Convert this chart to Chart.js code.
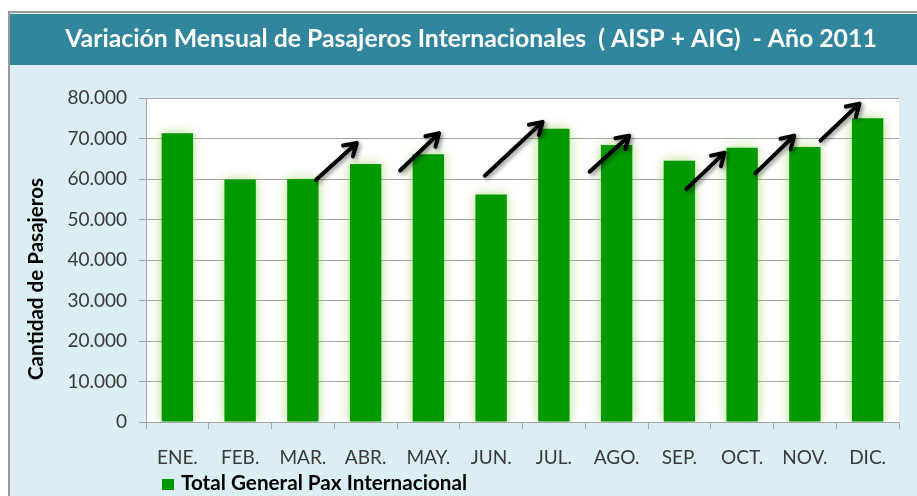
<!DOCTYPE html>
<html>
<head>
<meta charset="utf-8">
<script src="https://cdn.jsdelivr.net/npm/chart.js@4/dist/chart.umd.min.js"></script>
<style>
  html, body { margin: 0; padding: 0; background: #fff; overflow: hidden; }
  canvas { display: block; }
</style>
</head>
<body>
<canvas id="chart" width="917" height="496"></canvas>
<script>
const TITLE = 'Variación Mensual de Pasajeros Internacionales  ( AISP + AIG)  - Año 2011';
const Y_TITLE = 'Cantidad de Pasajeros';
const SERIES_LABEL = 'Total General Pax Internacional';

const MONTHS = ['ENE.', 'FEB.', 'MAR.', 'ABR.', 'MAY.', 'JUN.', 'JUL.', 'AGO.', 'SEP.', 'OCT.', 'NOV.', 'DIC.'];
const PAX = [71300, 59900, 60000, 63700, 66100, 56200, 72400, 68400, 64500, 67700, 67900, 75000];

const Y_MIN = 0;
const Y_MAX = 80000;
const Y_STEP = 10000;

// flechas de tendencia: posicion en categorias (indice) y en pasajeros
const ARROW_FROM_X = [2.21, 3.55, 4.90, 6.57, 8.11, 9.21, 10.25];
const ARROW_FROM_Y = [59800, 62100, 60800, 61800, 57500, 61400, 69500];
const ARROW_TO_X = [2.86, 4.17, 5.82, 7.20, 8.72, 9.83, 10.87];
const ARROW_TO_Y = [68900, 71300, 74100, 70700, 66500, 70700, 78600];

const BAR_COLOR = '#009900';
const GRID = '#a6a6a6';
const FONT = 'Lato';

function fitFont(ctx, text, weight, width) {
    ctx.font = `${weight} 100px ${FONT}`;
    const size = 100 * width / ctx.measureText(text).width;
    return `${weight} ${size.toFixed(1)}px ${FONT}`;
}

function thousands(v) {
    return String(v).replace(/\B(?=(\d{3})+(?!\d))/g, '.');
}

// fondo, marco y banda del titulo
const framePlugin = {
    id: 'frame',
    beforeDraw(chart) {
        const { ctx, chartArea: a, width, height } = chart;
        ctx.save();
        ctx.fillStyle = '#ffffff';
        ctx.fillRect(0, 0, width, height);
        ctx.fillStyle = '#daeef3';
        ctx.fillRect(9, 12, width, height);
        ctx.fillStyle = '#31859c';
        ctx.fillRect(9, 14, width, 51);
        ctx.fillStyle = '#9a9a9a';
        ctx.fillRect(8, 11, width, 2);
        ctx.fillRect(8, 11, 2, height);
        ctx.fillStyle = '#ffffff';
        ctx.fillRect(a.left, a.top, a.right - a.left, a.bottom - a.top);

        ctx.font = fitFont(ctx, TITLE, 'bold', 812);
        ctx.fillStyle = '#ffffff';
        ctx.textAlign = 'center';
        ctx.textBaseline = 'alphabetic';
        ctx.fillText(TITLE, 471, 47);
        ctx.restore();
    },
    beforeDatasetsDraw(chart) {
        const ctx = chart.ctx;
        ctx.save();
        ctx.shadowColor = 'rgba(130, 195, 50, 0.6)';
        ctx.shadowBlur = 12;
    },
    afterDatasetsDraw(chart) {
        const { ctx, scales: { x, y } } = chart;
        ctx.restore();

        ctx.save();
        ctx.strokeStyle = '#000';
        ctx.lineWidth = 4;
        ctx.lineCap = 'round';
        ctx.lineJoin = 'round';
        ctx.shadowColor = 'rgba(0, 0, 0, 0.45)';
        ctx.shadowBlur = 4;
        ctx.shadowOffsetX = 2;
        ctx.shadowOffsetY = 2;
        ARROW_FROM_X.forEach((fx, i) => {
            const x0 = x.getPixelForValue(fx);
            const y0 = y.getPixelForValue(ARROW_FROM_Y[i]);
            const x1 = x.getPixelForValue(ARROW_TO_X[i]);
            const y1 = y.getPixelForValue(ARROW_TO_Y[i]);
            const ang = Math.atan2(y1 - y0, x1 - x0);
            const head = 14;
            ctx.beginPath();
            ctx.moveTo(x0, y0);
            ctx.lineTo(x1, y1);
            ctx.moveTo(x1 - head * Math.cos(ang - 0.55), y1 - head * Math.sin(ang - 0.55));
            ctx.lineTo(x1, y1);
            ctx.lineTo(x1 - head * Math.cos(ang + 0.55), y1 - head * Math.sin(ang + 0.55));
            ctx.stroke();
        });
        ctx.restore();
    },
    afterDraw(chart) {
        const ctx = chart.ctx;
        ctx.save();
        // titulo del eje y
        ctx.font = fitFont(ctx, Y_TITLE, 'bold', 202);
        ctx.fillStyle = '#000';
        ctx.textAlign = 'center';
        ctx.textBaseline = 'alphabetic';
        ctx.translate(43, 279);
        ctx.rotate(-Math.PI / 2);
        ctx.fillText(Y_TITLE, 0, 0);
        ctx.restore();

        // leyenda
        ctx.save();
        ctx.fillStyle = BAR_COLOR;
        ctx.fillRect(162, 479, 12, 11);
        ctx.font = fitFont(ctx, SERIES_LABEL, 'bold', 287);
        ctx.fillStyle = '#000';
        ctx.textBaseline = 'alphabetic';
        ctx.fillText(SERIES_LABEL, 181, 490);
        ctx.restore();
    }
};

new Chart(document.getElementById('chart'), {
    type: 'bar',
    data: {
        labels: MONTHS,
        datasets: [{
            label: SERIES_LABEL,
            data: PAX,
            backgroundColor: BAR_COLOR,
            borderWidth: 0,
            barPercentage: 0.5,
            categoryPercentage: 1
        }]
    },
    options: {
        responsive: false,
        devicePixelRatio: 1,
        animation: false,
        layout: { padding: { left: 0, right: 18, top: 98, bottom: 10 } },
        plugins: {
            legend: { display: false },
            tooltip: { enabled: false },
            title: { display: false }
        },
        scales: {
            x: {
                offset: true,
                afterFit(scale) { scale.height = 64; },
                grid: {
                    offset: true,
                    drawOnChartArea: false,
                    drawTicks: true,
                    tickLength: 7,
                    color: GRID
                },
                border: { color: GRID, width: 1 },
                ticks: {
                    color: '#3a3a3a',
                    font: { family: FONT, size: 19 },
                    padding: 17,
                    maxRotation: 0,
                    autoSkip: false
                }
            },
            y: {
                min: Y_MIN,
                max: Y_MAX,
                afterFit(scale) { scale.width = 146; },
                grid: {
                    color: GRID,
                    drawTicks: true,
                    tickLength: 7
                },
                border: { color: GRID, width: 1 },
                ticks: {
                    stepSize: Y_STEP,
                    color: '#3a3a3a',
                    font: { family: FONT, size: 19 },
                    padding: 12,
                    callback: v => thousands(v)
                }
            }
        }
    },
    plugins: [framePlugin]
});
</script>
</body>
</html>
